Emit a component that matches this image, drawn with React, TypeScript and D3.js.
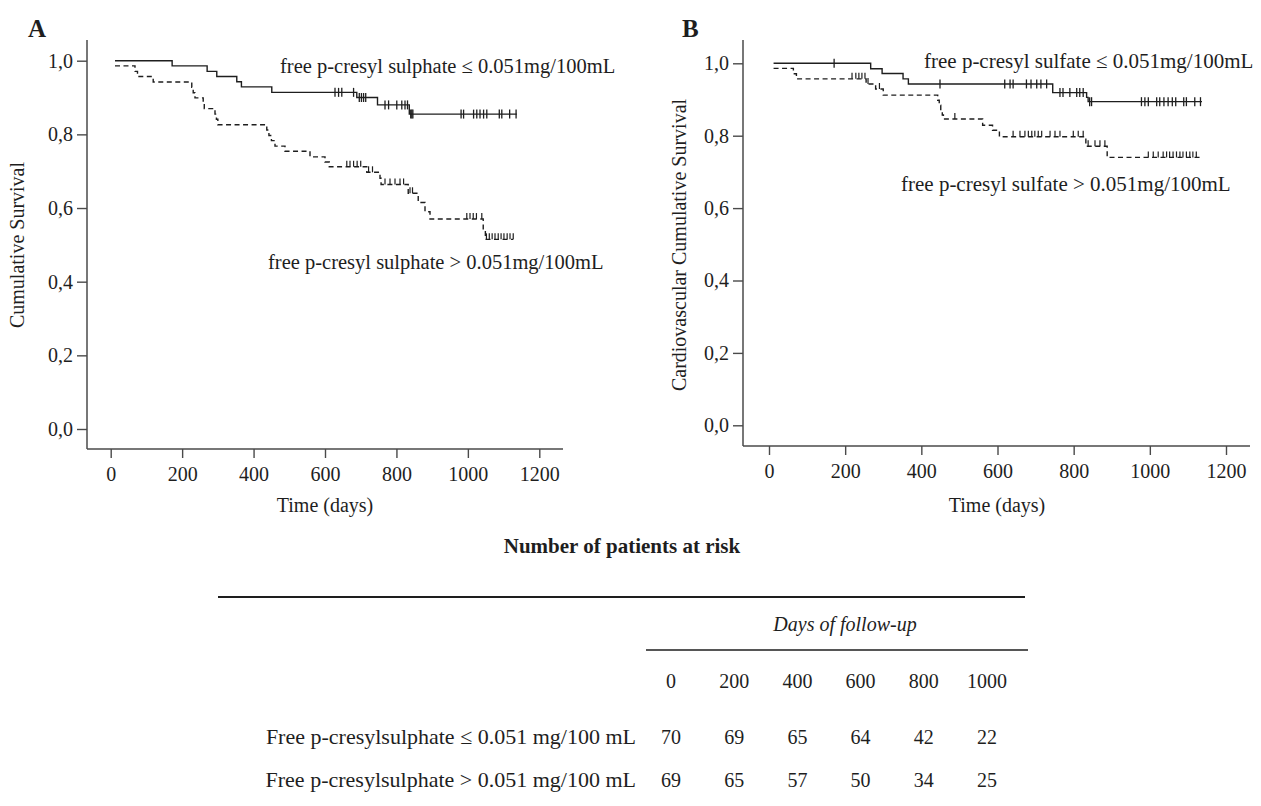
import React, { useEffect, useRef } from "react";
import * as d3 from "d3";

// ---------------- Panel A (all-cause survival) ----------------
const aLowEventDays = [12, 172, 270, 297, 353, 366, 451, 689, 747, 836];
const aLowEventSurv = [1.0, 0.986, 0.971, 0.957, 0.943, 0.929, 0.914, 0.9, 0.88, 0.855];
const aLowCensorDays = [628, 638, 647, 680, 696, 702, 708, 714, 768, 778, 801, 815, 824, 831, 840, 843, 846, 981, 988, 1016, 1025, 1034, 1044, 1053, 1088, 1095, 1117, 1135];
const aLowEndDay = 1137;

const aHighEventDays = [12, 68, 75, 119, 227, 231, 236, 259, 262, 292, 296, 300, 437, 443, 450, 460, 488, 558, 600, 612, 717, 754, 757, 833, 861, 880, 894, 1043, 1049];
const aHighEventSurv = [0.986, 0.971, 0.957, 0.942, 0.928, 0.913, 0.899, 0.884, 0.87, 0.855, 0.841, 0.826, 0.812, 0.797, 0.783, 0.768, 0.754, 0.739, 0.725, 0.712, 0.697, 0.681, 0.664, 0.64, 0.615, 0.59, 0.57, 0.541, 0.515];
const aHighCensorDays = [661, 670, 680, 690, 700, 722, 733, 768, 782, 796, 810, 820, 838, 845, 997, 1006, 1015, 1024, 1039, 1052, 1060, 1068, 1076, 1085, 1093, 1101, 1110, 1118, 1127];
const aHighEndDay = 1127;

// ---------------- Panel B (cardiovascular survival) ----------------
const bLowEventDays = [12, 267, 297, 352, 366, 745, 834, 838];
const bLowEventSurv = [1.0, 0.985, 0.972, 0.957, 0.943, 0.919, 0.906, 0.894];
const bLowCensorDays = [171, 449, 619, 633, 641, 676, 688, 703, 714, 729, 764, 772, 790, 808, 816, 825, 842, 847, 978, 987, 996, 1018, 1026, 1037, 1048, 1059, 1068, 1089, 1096, 1118, 1133];
const bLowEndDay = 1137;

const bHighEventDays = [12, 64, 72, 255, 280, 300, 443, 447, 451, 455, 458, 561, 587, 605, 832, 888];
const bHighEventSurv = [0.986, 0.971, 0.957, 0.943, 0.929, 0.912, 0.898, 0.884, 0.87, 0.857, 0.846, 0.829, 0.815, 0.797, 0.771, 0.74];
const bHighCensorDays = [218, 228, 236, 244, 252, 260, 290, 488, 641, 659, 672, 681, 690, 698, 707, 716, 738, 751, 764, 799, 812, 825, 838, 856, 869, 882, 996, 1009, 1022, 1035, 1044, 1052, 1061, 1070, 1079, 1087, 1096, 1105, 1113, 1122];
const bHighEndDay = 1131;

// ---------------- Axes ----------------
const xTickValues = [0, 200, 400, 600, 800, 1000, 1200];
const yTickValues = [0, 0.2, 0.4, 0.6, 0.8, 1.0];

// ---------------- Labels ----------------
const aLowLabel = "free p-cresyl sulphate \u2264 0.051mg/100mL";
const aHighLabel = "free p-cresyl sulphate > 0.051mg/100mL";
const bLowLabel = "free p-cresyl sulfate \u2264 0.051mg/100mL";
const bHighLabel = "free p-cresyl sulfate > 0.051mg/100mL";

// ---------------- Risk table ----------------
const tableDays = [0, 200, 400, 600, 800, 1000];
const tableRowLabels = [
  "Free p-cresylsulphate \u2264 0.051 mg/100 mL",
  "Free p-cresylsulphate > 0.051 mg/100 mL",
];
const tableLowCounts = [70, 69, 65, 64, 42, 22];
const tableHighCounts = [69, 65, 57, 50, 34, 25];

const serif = "'Liberation Serif', 'Times New Roman', Times, serif";
const ink = "#1e1e1e";
const axisInk = "#4a4a4a";

const fmtComma = d3
  .formatLocale({ decimal: ",", thousands: ".", grouping: [3], currency: ["", ""] })
  .format(".1f");
const fmtInt = d3.format("d");

function survAt(days: number[], surv: number[], t: number) {
  const i = d3.bisectRight(days, t) - 1;
  return surv[Math.max(0, i)];
}

type Curve = {
  days: number[];
  surv: number[];
  censor: number[];
  end: number;
  dashed: boolean;
};

type PanelCfg = {
  id: string;
  xRange: [number, number];
  yRange: [number, number];
  axisLeftX: number;
  axisBottomY: number;
  axisTopY: number;
  axisRightX: number;
  curves: Curve[];
};

const panelA: PanelCfg = {
  id: "A",
  xRange: [110.7, 539.3],
  yRange: [429, 60.7],
  axisLeftX: 87,
  axisBottomY: 449,
  axisTopY: 40,
  axisRightX: 563,
  curves: [
    { days: aLowEventDays, surv: aLowEventSurv, censor: aLowCensorDays, end: aLowEndDay, dashed: false },
    { days: aHighEventDays, surv: aHighEventSurv, censor: aHighCensorDays, end: aHighEndDay, dashed: true },
  ],
};

const panelB: PanelCfg = {
  id: "B",
  xRange: [769, 1226],
  yRange: [425.3, 63.3],
  axisLeftX: 743,
  axisBottomY: 446,
  axisTopY: 40,
  axisRightX: 1250,
  curves: [
    { days: bLowEventDays, surv: bLowEventSurv, censor: bLowCensorDays, end: bLowEndDay, dashed: false },
    { days: bHighEventDays, surv: bHighEventSurv, censor: bHighCensorDays, end: bHighEndDay, dashed: true },
  ],
};

function Panel({ cfg }: { cfg: PanelCfg }) {
  const gx = useRef<SVGGElement>(null);
  const gy = useRef<SVGGElement>(null);
  const x = d3.scaleLinear().domain([0, 1200]).range(cfg.xRange);
  const y = d3.scaleLinear().domain([0, 1]).range(cfg.yRange);

  useEffect(() => {
    const sx = d3
      .select(gx.current)
      .attr("transform", `translate(0,${cfg.axisBottomY})`)
      .call(
        d3
          .axisBottom(x)
          .tickValues(xTickValues)
          .tickSize(9)
          .tickSizeOuter(0)
          .tickPadding(9)
          .tickFormat((d: any) => fmtInt(d)) as any
      );
    sx.select(".domain").remove();
    sx.selectAll("line").attr("stroke", axisInk).attr("stroke-width", 1.4);
    sx.selectAll("text").attr("font-family", serif).attr("font-size", 20).attr("fill", ink);

    const sy = d3
      .select(gy.current)
      .attr("transform", `translate(${cfg.axisLeftX},0)`)
      .call(
        d3
          .axisLeft(y)
          .tickValues(yTickValues)
          .tickSize(10)
          .tickSizeOuter(0)
          .tickPadding(4)
          .tickFormat((d: any) => fmtComma(d)) as any
      );
    sy.select(".domain").remove();
    sy.selectAll("line").attr("stroke", axisInk).attr("stroke-width", 1.4);
    sy.selectAll("text").attr("font-family", serif).attr("font-size", 20).attr("fill", ink);
  }, []);

  const line = d3
    .line<[number, number]>()
    .x((d) => x(d[0]))
    .y((d) => y(d[1]))
    .curve(d3.curveStepAfter);

  return (
    <g>
      <line x1={cfg.axisLeftX} x2={cfg.axisLeftX} y1={cfg.axisTopY} y2={cfg.axisBottomY} stroke={axisInk} strokeWidth={1.5} />
      <line x1={cfg.axisLeftX} x2={cfg.axisRightX} y1={cfg.axisBottomY} y2={cfg.axisBottomY} stroke={axisInk} strokeWidth={1.5} />
      <g ref={gx} />
      <g ref={gy} />
      {cfg.curves.map((c, ci) => {
        const pts: [number, number][] = c.days.map((d, i) => [d, c.surv[i]] as [number, number]);
        pts.push([c.end, c.surv[c.surv.length - 1]]);
        return (
          <g key={ci}>
            <path
              d={line(pts) || ""}
              fill="none"
              stroke={ink}
              strokeWidth={1.4}
              strokeDasharray={c.dashed ? "5,3.5" : undefined}
            />
            {c.censor.map((t, k) => {
              const cy = y(survAt(c.days, c.surv, t));
              const cx = x(t);
              return c.dashed ? (
                <line key={k} x1={cx} x2={cx} y1={cy - 6} y2={cy} stroke={ink} strokeWidth={1.2} />
              ) : (
                <line key={k} x1={cx} x2={cx} y1={cy - 4.5} y2={cy + 4.5} stroke={ink} strokeWidth={1.3} />
              );
            })}
          </g>
        );
      })}
    </g>
  );
}

function RiskTable() {
  const col = d3.scalePoint<number>().domain(tableDays).range([671, 987]);
  const rows = [tableLowCounts, tableHighCounts];
  const rowY = [744, 787];
  return (
    <g fontFamily={serif} fill={ink}>
      <text x={622} y={553} fontSize={21} fontWeight="bold" textAnchor="middle">
        Number of patients at risk
      </text>
      <line x1={218} x2={1025} y1={597} y2={597} stroke={ink} strokeWidth={2} />
      <text x={845} y={631} fontSize={20} fontStyle="italic" textAnchor="middle">
        Days of follow-up
      </text>
      <line x1={646} x2={1028} y1={650} y2={650} stroke={ink} strokeWidth={1.6} />
      {tableDays.map((d) => (
        <text key={d} x={col(d)} y={688} fontSize={20} textAnchor="middle">
          {d}
        </text>
      ))}
      {rows.map((r, ri) => (
        <g key={ri}>
          <text x={636} y={rowY[ri]} fontSize={22} textAnchor="end">
            {tableRowLabels[ri]}
          </text>
          {r.map((v, i) => (
            <text key={i} x={col(tableDays[i])} y={rowY[ri]} fontSize={20} textAnchor="middle">
              {v}
            </text>
          ))}
        </g>
      ))}
    </g>
  );
}

export default function App() {
  return (
    <svg
      width={1261}
      height={806}
      style={{ position: "absolute", left: 0, top: 0, background: "#fff", display: "block" }}
    >
      <rect x={0} y={0} width={1261} height={806} fill="#fff" />
      <Panel cfg={panelA} />
      <Panel cfg={panelB} />
      <g fontFamily={serif} fill={ink}>
        <text x={28} y={37} fontSize={25} fontWeight="bold">A</text>
        <text x={682} y={37} fontSize={25} fontWeight="bold">B</text>
        <text x={280} y={73} fontSize={20.5}>{aLowLabel}</text>
        <text x={268} y={269} fontSize={20.5}>{aHighLabel}</text>
        <text x={924} y={68} fontSize={21}>{bLowLabel}</text>
        <text x={901} y={191} fontSize={21}>{bHighLabel}</text>
        <text transform="translate(24,245) rotate(-90)" fontSize={20} textAnchor="middle">
          Cumulative Survival
        </text>
        <text transform="translate(686,245) rotate(-90)" fontSize={20} textAnchor="middle">
          Cardiovascular Cumulative Survival
        </text>
        <text x={325} y={512} fontSize={20} textAnchor="middle">Time (days)</text>
        <text x={997} y={512} fontSize={20} textAnchor="middle">Time (days)</text>
      </g>
      <RiskTable />
    </svg>
  );
}
